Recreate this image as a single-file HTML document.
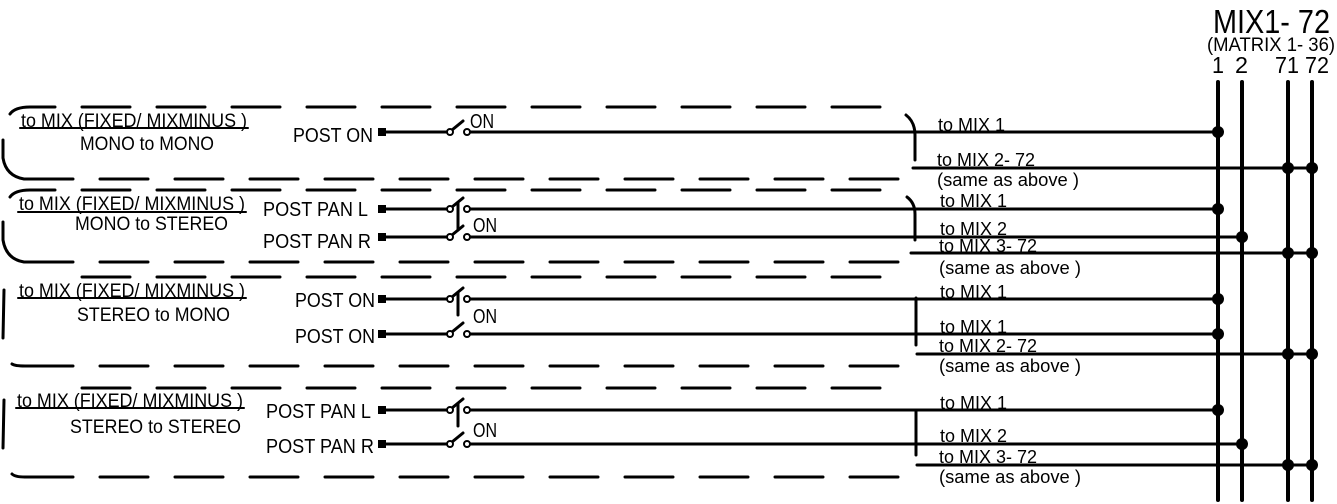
<!DOCTYPE html>
<html><head><meta charset="utf-8"><style>
html,body{margin:0;padding:0;background:#fff}
svg{display:block}
text{font-family:"Liberation Sans",Arial,sans-serif;fill:#000}
</style></head><body>
<svg width="1337" height="504" viewBox="0 0 1337 504" xmlns="http://www.w3.org/2000/svg">
<g stroke="#000" fill="none" stroke-linecap="round">
<g stroke-width="3">
<line x1="82" y1="107" x2="880" y2="107" stroke-dasharray="48 27"/>
<line x1="25" y1="179" x2="900" y2="179" stroke-dasharray="48 27"/>
<line x1="82" y1="190" x2="880" y2="190" stroke-dasharray="48 27"/>
<line x1="25" y1="262" x2="900" y2="262" stroke-dasharray="48 27"/>
<line x1="82" y1="277" x2="880" y2="277" stroke-dasharray="48 27"/>
<line x1="25" y1="366" x2="900" y2="366" stroke-dasharray="48 27"/>
<line x1="82" y1="388" x2="880" y2="388" stroke-dasharray="48 27"/>
<line x1="25" y1="477" x2="900" y2="477" stroke-dasharray="48 27"/>
<path d="M10 114 Q15 107 30 107 L55 107"/>
<path d="M3 140 L3 158 Q6 176 24 179 L72 179"/>
<path d="M10 197 Q15 190 30 190 L55 190"/>
<path d="M3 222 L3 240 Q6 259 24 262 L72 262"/>
<path d="M4 290 L3 338"/>
<path d="M12 364 Q15 366 25 366 L72 366"/>
<path d="M4 400 L3 448"/>
<path d="M12 474 Q15 477 25 477 L72 477"/>
<path d="M906 115 Q915 122 915 135 L915 160"/>
<path d="M907 197 Q915 203 915 214 L915 240"/>
<line x1="916" y1="298" x2="916" y2="345"/>
<line x1="916" y1="410" x2="916" y2="455"/>
</g>
<g stroke-width="4">
<line x1="1218" y1="82" x2="1218" y2="500"/>
<line x1="1242" y1="82" x2="1242" y2="500"/>
<line x1="1288" y1="82" x2="1288" y2="500"/>
<line x1="1312" y1="82" x2="1312" y2="500"/>
</g>
<g stroke-width="3">
<line x1="386" y1="132" x2="447" y2="132"/><line x1="470" y1="132" x2="1218" y2="132"/>
<line x1="913" y1="168" x2="1312" y2="168"/>
<line x1="386" y1="209" x2="447" y2="209"/><line x1="470" y1="209" x2="1218" y2="209"/>
<line x1="386" y1="237" x2="447" y2="237"/><line x1="470" y1="237" x2="1242" y2="237"/>
<line x1="911" y1="253" x2="1312" y2="253"/>
<line x1="386" y1="299" x2="447" y2="299"/><line x1="470" y1="299" x2="1218" y2="299"/>
<line x1="386" y1="334" x2="447" y2="334"/><line x1="470" y1="334" x2="1218" y2="334"/>
<line x1="917" y1="354" x2="1312" y2="354"/>
<line x1="386" y1="410" x2="447" y2="410"/><line x1="470" y1="410" x2="1218" y2="410"/>
<line x1="386" y1="444" x2="447" y2="444"/><line x1="470" y1="444" x2="1242" y2="444"/>
<line x1="917" y1="465" x2="1312" y2="465"/>
<line x1="452" y1="130" x2="463" y2="121"/>
<line x1="452" y1="207" x2="463" y2="198"/><line x1="452" y1="235" x2="463" y2="226"/>
<line x1="452" y1="297" x2="463" y2="288"/><line x1="452" y1="332" x2="463" y2="323"/>
<line x1="452" y1="408" x2="463" y2="399"/><line x1="452" y1="442" x2="463" y2="433"/>
<line x1="458" y1="203" x2="458" y2="230"/>
<line x1="458" y1="293" x2="458" y2="315"/>
<line x1="458" y1="404" x2="458" y2="426"/>
</g>
<g stroke-width="2" fill="#fff">
<circle cx="450" cy="132" r="3"/><circle cx="467" cy="132" r="3"/>
<circle cx="450" cy="209" r="3"/><circle cx="467" cy="209" r="3"/>
<circle cx="450" cy="237" r="3"/><circle cx="467" cy="237" r="3"/>
<circle cx="450" cy="299" r="3"/><circle cx="467" cy="299" r="3"/>
<circle cx="450" cy="334" r="3"/><circle cx="467" cy="334" r="3"/>
<circle cx="450" cy="410" r="3"/><circle cx="467" cy="410" r="3"/>
<circle cx="450" cy="444" r="3"/><circle cx="467" cy="444" r="3"/>
</g>
<g stroke-width="2">
<line x1="20" y1="128" x2="248" y2="128"/>
<line x1="18" y1="212" x2="246" y2="212"/>
<line x1="18" y1="298" x2="246" y2="298"/>
<line x1="16" y1="408" x2="244" y2="408"/>
</g>
</g>
<g fill="#000">
<rect x="378" y="128" width="8" height="8"/>
<rect x="378" y="205" width="8" height="8"/><rect x="378" y="233" width="8" height="8"/>
<rect x="378" y="295" width="8" height="8"/><rect x="378" y="330" width="8" height="8"/>
<rect x="378" y="406" width="8" height="8"/><rect x="378" y="440" width="8" height="8"/>
<circle cx="1218" cy="132" r="6"/>
<circle cx="1288" cy="168" r="6"/><circle cx="1312" cy="168" r="6"/>
<circle cx="1218" cy="209" r="6"/><circle cx="1242" cy="237" r="6"/>
<circle cx="1288" cy="253" r="6"/><circle cx="1312" cy="253" r="6"/>
<circle cx="1218" cy="299" r="6"/><circle cx="1218" cy="334" r="6"/>
<circle cx="1288" cy="354" r="6"/><circle cx="1312" cy="354" r="6"/>
<circle cx="1218" cy="410" r="6"/><circle cx="1242" cy="444" r="6"/>
<circle cx="1288" cy="465" r="6"/><circle cx="1312" cy="465" r="6"/>
</g>
<g font-size="19">
<text x="21" y="127" textLength="226" lengthAdjust="spacingAndGlyphs">to MIX (FIXED/ MIXMINUS )</text>
<text x="80" y="150" textLength="134" lengthAdjust="spacingAndGlyphs">MONO to MONO</text>
<text x="19" y="210" textLength="226" lengthAdjust="spacingAndGlyphs">to MIX (FIXED/ MIXMINUS )</text>
<text x="75" y="230" textLength="153" lengthAdjust="spacingAndGlyphs">MONO to STEREO</text>
<text x="19" y="297" textLength="226" lengthAdjust="spacingAndGlyphs">to MIX (FIXED/ MIXMINUS )</text>
<text x="77" y="321" textLength="153" lengthAdjust="spacingAndGlyphs">STEREO to MONO</text>
<text x="17" y="407" textLength="226" lengthAdjust="spacingAndGlyphs">to MIX (FIXED/ MIXMINUS )</text>
<text x="70" y="433" textLength="171" lengthAdjust="spacingAndGlyphs">STEREO to STEREO</text>
</g>
<g font-size="20">
<text x="293" y="142" textLength="80" lengthAdjust="spacingAndGlyphs">POST ON</text>
<text x="263" y="216" textLength="105" lengthAdjust="spacingAndGlyphs">POST PAN L</text>
<text x="263" y="248" textLength="108" lengthAdjust="spacingAndGlyphs">POST PAN R</text>
<text x="295" y="307" textLength="80" lengthAdjust="spacingAndGlyphs">POST ON</text>
<text x="295" y="343" textLength="80" lengthAdjust="spacingAndGlyphs">POST ON</text>
<text x="266" y="418" textLength="105" lengthAdjust="spacingAndGlyphs">POST PAN L</text>
<text x="266" y="453" textLength="108" lengthAdjust="spacingAndGlyphs">POST PAN R</text>
<text x="470" y="128" textLength="24" lengthAdjust="spacingAndGlyphs">ON</text>
<text x="473" y="232" textLength="24" lengthAdjust="spacingAndGlyphs">ON</text>
<text x="473" y="323" textLength="24" lengthAdjust="spacingAndGlyphs">ON</text>
<text x="473" y="437" textLength="24" lengthAdjust="spacingAndGlyphs">ON</text>
</g>
<g font-size="18">
<text x="938" y="131" textLength="67" lengthAdjust="spacingAndGlyphs">to MIX 1</text>
<text x="937" y="166" textLength="98" lengthAdjust="spacingAndGlyphs">to MIX 2- 72</text>
<text x="937" y="186" textLength="142" lengthAdjust="spacingAndGlyphs">(same as above  )</text>
<text x="940" y="207" textLength="67" lengthAdjust="spacingAndGlyphs">to MIX 1</text>
<text x="940" y="235" textLength="67" lengthAdjust="spacingAndGlyphs">to MIX 2</text>
<text x="939" y="252" textLength="98" lengthAdjust="spacingAndGlyphs">to MIX 3- 72</text>
<text x="939" y="274" textLength="142" lengthAdjust="spacingAndGlyphs">(same as above  )</text>
<text x="940" y="298" textLength="67" lengthAdjust="spacingAndGlyphs">to MIX 1</text>
<text x="940" y="333" textLength="67" lengthAdjust="spacingAndGlyphs">to MIX 1</text>
<text x="939" y="352" textLength="98" lengthAdjust="spacingAndGlyphs">to MIX 2- 72</text>
<text x="939" y="372" textLength="142" lengthAdjust="spacingAndGlyphs">(same as above  )</text>
<text x="940" y="409" textLength="67" lengthAdjust="spacingAndGlyphs">to MIX 1</text>
<text x="940" y="442" textLength="67" lengthAdjust="spacingAndGlyphs">to MIX 2</text>
<text x="939" y="463" textLength="98" lengthAdjust="spacingAndGlyphs">to MIX 3- 72</text>
<text x="939" y="483" textLength="142" lengthAdjust="spacingAndGlyphs">(same as above  )</text>
</g>
<text x="1213" y="33" font-size="33" textLength="117" lengthAdjust="spacingAndGlyphs">MIX1- 72</text>
<text x="1207" y="51" font-size="19" textLength="128" lengthAdjust="spacingAndGlyphs">(MATRIX 1- 36)</text>
<text x="1212" y="73" font-size="23" textLength="12" lengthAdjust="spacingAndGlyphs">1</text>
<text x="1235" y="73" font-size="23" textLength="13" lengthAdjust="spacingAndGlyphs">2</text>
<text x="1275" y="73" font-size="23" textLength="54" lengthAdjust="spacingAndGlyphs">71 72</text>
</svg>
</body></html>
